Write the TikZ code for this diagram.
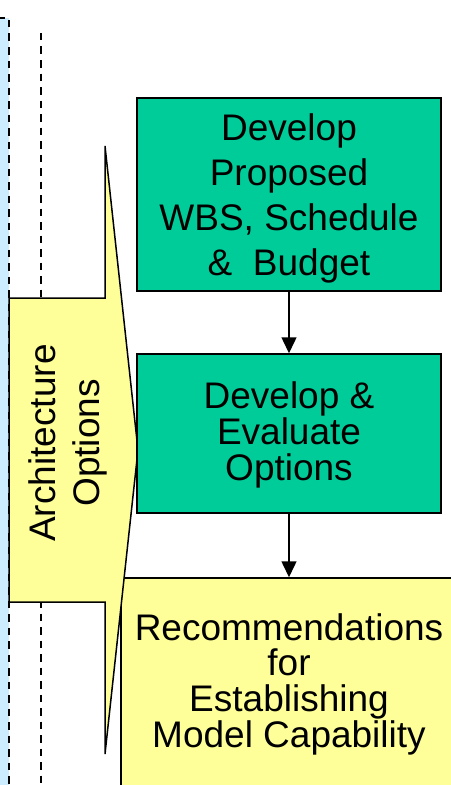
\documentclass[tikz,border=0pt]{standalone}
\usepackage{fontspec}
\setmainfont{Liberation Sans}
\usetikzlibrary{arrows.meta}
\definecolor{boxgreen}{HTML}{00CC99}
\definecolor{paleyellow}{HTML}{FFFF99}
\definecolor{paleblue}{HTML}{CCECFF}
\begin{document}
\begin{tikzpicture}[x=1bp,y=-1bp,
  dashline/.style={line width=2bp, dash pattern=on 7.5bp off 6bp},
  greenbox/.style={rectangle, draw=black, line width=1.5bp, fill=boxgreen, inner sep=0pt},
  yellowbox/.style={rectangle, draw=black, line width=1.5bp, fill=paleyellow, inner sep=0pt},
  blockarrow/.style={draw=black, line width=1.5bp, fill=paleyellow, line join=miter},
  txt/.style={align=center, inner sep=0pt, text=black},
  flow/.style={line width=1.5bp, draw=black, -{Triangle[width=15bp,length=16bp]}}]
\useasboundingbox (0,0) rectangle (451,785);
% light blue strip with dashed border
\fill[paleblue] (-20,18) rectangle (9,800);
\draw[dashline] (-2.5,18) -- (9,18) -- (9,800);
% second dashed line
\draw[dashline] (41,33) -- (41,800);
% recommendations box (runs off the page)
\node[yellowbox, minimum width=349bp, minimum height=232bp] (b3) at (295.5,694) {};
% block arrow
\draw[blockarrow] (9,298) -- (105,298) -- (105,146) -- (138,450) -- (105,754) -- (105,602) -- (9,602) -- cycle;
\node[txt, rotate=90, font=\fontsize{37bp}{44bp}\selectfont] (t4) at (68,443) {Architecture\\Options};
% green boxes
\node[greenbox, minimum width=304bp, minimum height=193bp] (b1) at (289,194.5) {};
\node[greenbox, minimum width=304bp, minimum height=159bp] (b2) at (289,433.5) {};
% texts
\node[txt, font=\fontsize{37bp}{45bp}\selectfont] (t1) at (289,198.2)
  {Develop\\Proposed\hspace*{10bp}\\WBS, Schedule\hspace*{10bp}\\\&\ \ Budget};
\node[txt, font=\fontsize{37bp}{36bp}\selectfont] (t2) at (289,434.7)
  {Develop \&\\Evaluate\\Options};
\node[txt, font=\fontsize{37bp}{35.7bp}\selectfont] (t3) at (289,684.2)
  {Recommendations\\for\\Establishing\\Model Capability};
% connectors
\draw[flow] (b1.south) -- (b2.north);
\draw[flow] (b2.south) -- (b2.south |- b3.north);
\end{tikzpicture}
\end{document}
